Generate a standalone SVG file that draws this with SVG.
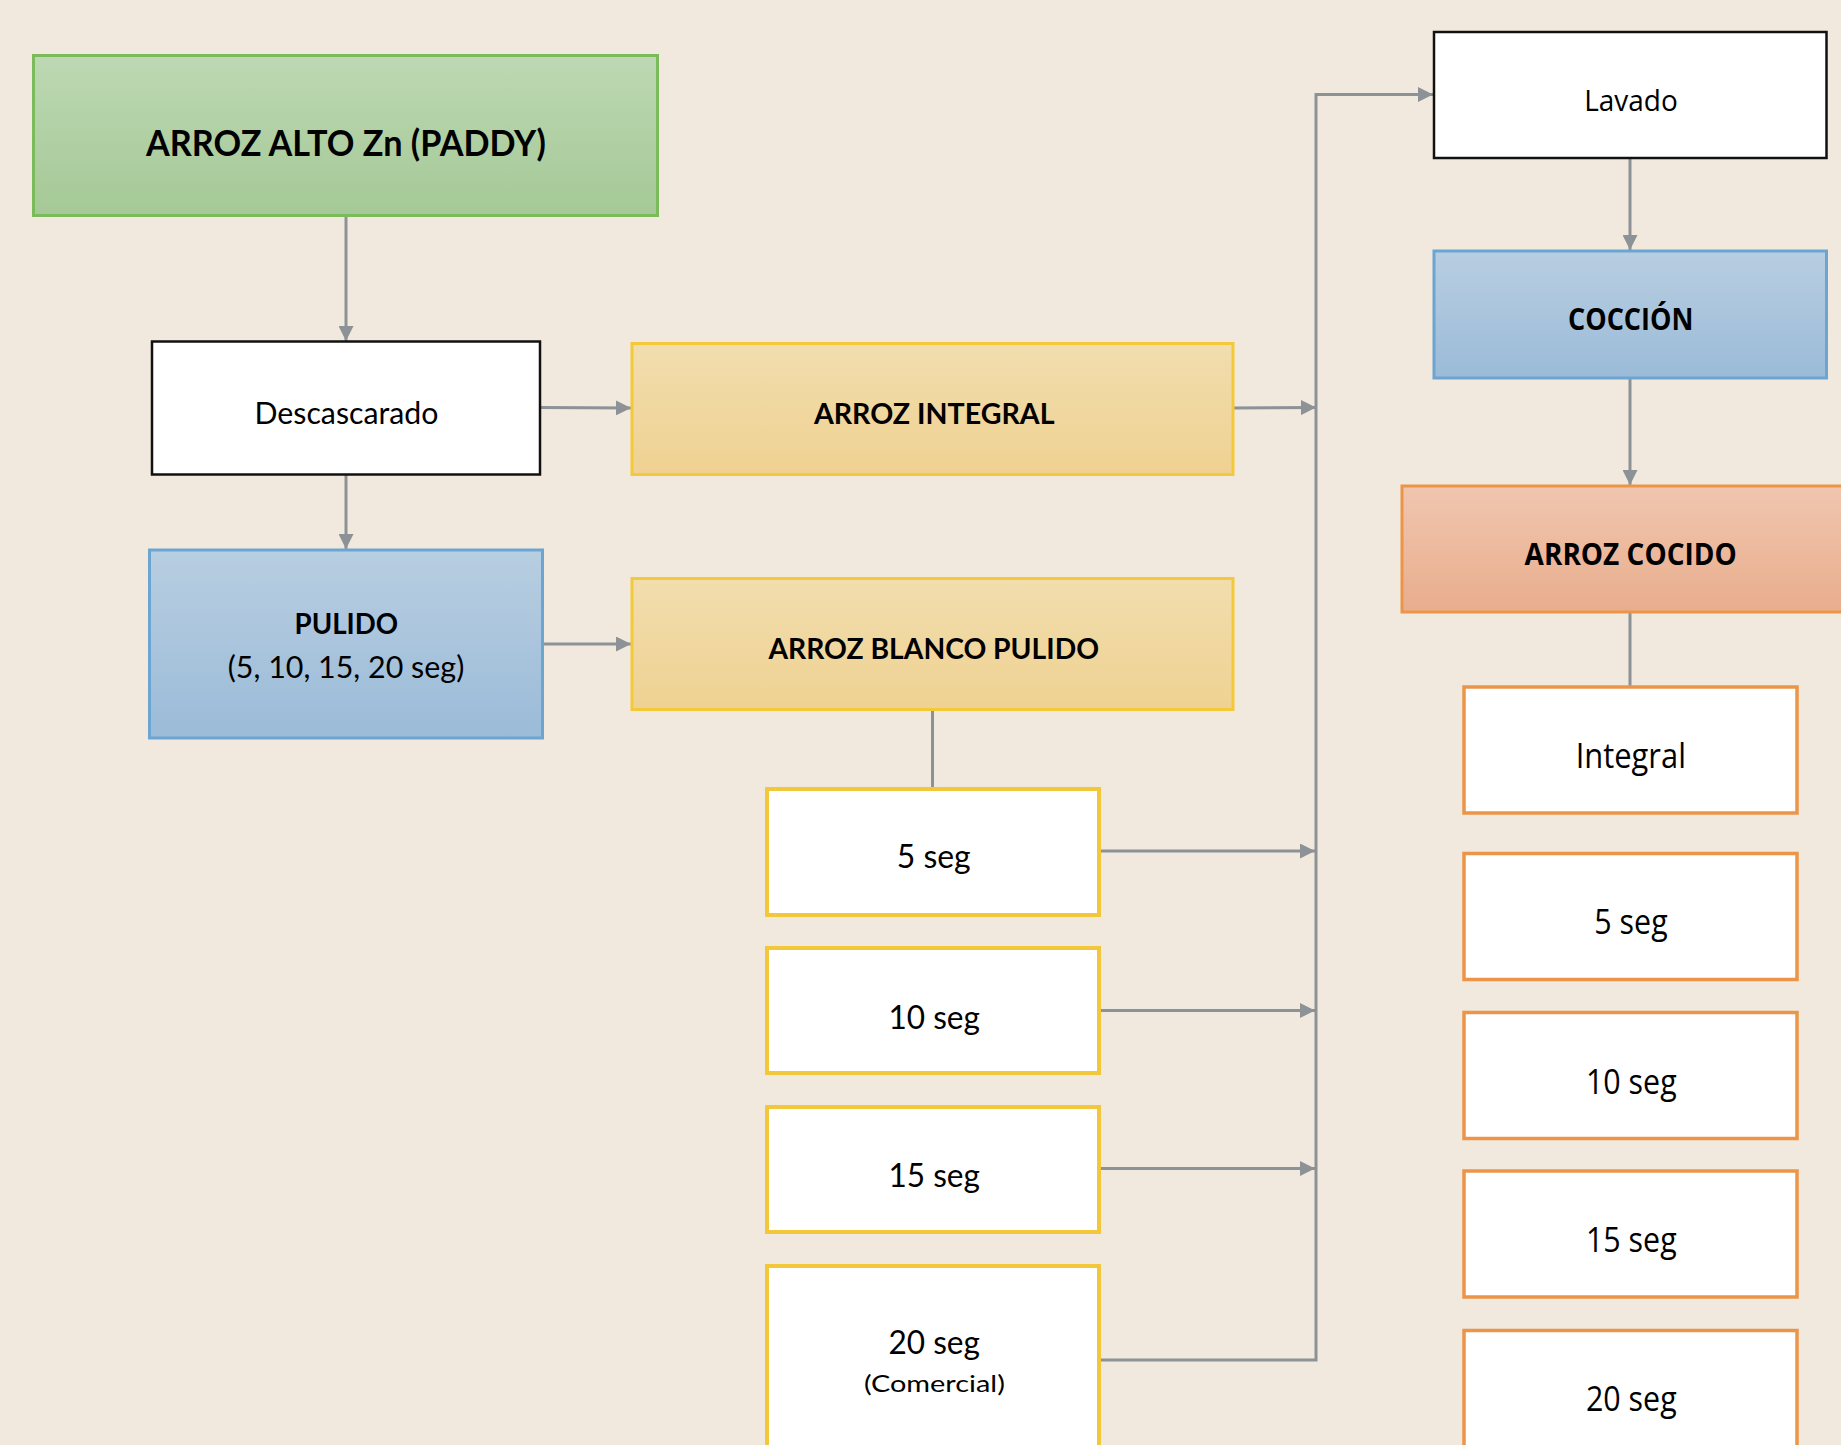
<svg xmlns="http://www.w3.org/2000/svg" width="1841" height="1445" viewBox="0 0 1841 1445">
<defs>
<linearGradient id="gGreen" x1="0" y1="0" x2="0" y2="1"><stop offset="0" stop-color="#BDD8B3"/><stop offset="1" stop-color="#A5C996"/></linearGradient>
<linearGradient id="gYellow" x1="0" y1="0" x2="0" y2="1"><stop offset="0" stop-color="#F2DDAE"/><stop offset="1" stop-color="#EFD292"/></linearGradient>
<linearGradient id="gBlue" x1="0" y1="0" x2="0" y2="1"><stop offset="0" stop-color="#B8CEE1"/><stop offset="1" stop-color="#9BBBD8"/></linearGradient>
<linearGradient id="gOrange" x1="0" y1="0" x2="0" y2="1"><stop offset="0" stop-color="#F0C6AF"/><stop offset="1" stop-color="#E9AD8D"/></linearGradient>
<marker id="arr" viewBox="0 0 10 10" refX="10" refY="5" markerWidth="15" markerHeight="15" markerUnits="userSpaceOnUse" orient="auto">
<path d="M0,0 L10,5 L0,10 Z" fill="#8C9295"/>
</marker>
<style>
.conn{fill:none;stroke:#8C9295;stroke-width:3}
.lt{font-family:Lato,"Liberation Sans",sans-serif;fill:#000;text-anchor:middle}
.os{font-family:"Open Sans","Liberation Sans",sans-serif;fill:#000;text-anchor:middle}
.b{font-weight:bold}
.white{fill:#FFFFFF}
.blk{stroke:#111;stroke-width:2.5}
.ysm{stroke:#F2C83A;stroke-width:4}
.osm{stroke:#EC9548;stroke-width:3.5}
</style>
</defs>
<rect x="0" y="0" width="1841" height="1445" fill="#F1E9DD"/>

<g id="connectors">
<path class="conn" d="M346,216 V341" marker-end="url(#arr)"/>
<path class="conn" d="M346,475 V549" marker-end="url(#arr)"/>
<path class="conn" d="M540,407.5 L631,408" marker-end="url(#arr)"/>
<path class="conn" d="M543,644 H631" marker-end="url(#arr)"/>
<path class="conn" d="M1233,408 L1316,407.5" marker-end="url(#arr)"/>
<path class="conn" d="M932.5,709 V787"/>
<path class="conn" d="M1100,851 H1315" marker-end="url(#arr)"/>
<path class="conn" d="M1100,1010.5 H1315" marker-end="url(#arr)"/>
<path class="conn" d="M1100,1168.5 H1315" marker-end="url(#arr)"/>
<path class="conn" d="M1100,1360 H1316 V94.5 H1433" marker-end="url(#arr)"/>
<path class="conn" d="M1630,158.5 V250" marker-end="url(#arr)"/>
<path class="conn" d="M1630,378.5 V485" marker-end="url(#arr)"/>
<path class="conn" d="M1630,612.5 V686"/>
</g>

<g id="n-paddy">
<rect x="33.5" y="55.5" width="624" height="160" fill="url(#gGreen)" stroke="#7CBB5C" stroke-width="3"/>
<text class="lt b" x="346" y="155.5" font-size="36" textLength="400" lengthAdjust="spacingAndGlyphs">ARROZ ALTO Zn (PADDY)</text>
</g>

<g id="n-descascarado">
<rect class="white blk" x="152" y="341.5" width="388" height="133"/>
<text class="lt" x="346.5" y="424" font-size="31" textLength="184" lengthAdjust="spacingAndGlyphs">Descascarado</text>
</g>

<g id="n-pulido">
<rect x="149.5" y="550" width="393" height="188" fill="url(#gBlue)" stroke="#6CA5D1" stroke-width="3"/>
<text class="lt b" x="346.4" y="634.4" font-size="29" textLength="103.6" lengthAdjust="spacingAndGlyphs">PULIDO</text>
<text class="lt" x="346" y="678" font-size="30" textLength="236.6" lengthAdjust="spacingAndGlyphs">(5, 10, 15, 20 seg)</text>
</g>

<g id="n-integral">
<rect x="632" y="343.5" width="601" height="131" fill="url(#gYellow)" stroke="#F3C93A" stroke-width="3"/>
<text class="lt b" x="934.2" y="424" font-size="29" textLength="240.6" lengthAdjust="spacingAndGlyphs">ARROZ INTEGRAL</text>
</g>

<g id="n-blanco">
<rect x="632" y="578.5" width="601" height="131" fill="url(#gYellow)" stroke="#F3C93A" stroke-width="3"/>
<text class="lt b" x="933.7" y="659" font-size="29" textLength="330.6" lengthAdjust="spacingAndGlyphs">ARROZ BLANCO PULIDO</text>
</g>

<g id="n-p5">
<rect class="white ysm" x="767" y="789" width="332" height="126"/>
<text class="lt" x="933.7" y="867.7" font-size="32" textLength="74" lengthAdjust="spacingAndGlyphs">5 seg</text>
</g>
<g id="n-p10">
<rect class="white ysm" x="767" y="948" width="332" height="125"/>
<text class="lt" x="934.2" y="1028.6" font-size="33" textLength="91.5" lengthAdjust="spacingAndGlyphs">10 seg</text>
</g>
<g id="n-p15">
<rect class="white ysm" x="767" y="1107" width="332" height="125"/>
<text class="lt" x="934.2" y="1186.8" font-size="33" textLength="91.5" lengthAdjust="spacingAndGlyphs">15 seg</text>
</g>
<g id="n-p20">
<rect class="white ysm" x="767" y="1266" width="332" height="200"/>
<text class="lt" x="934.2" y="1353.6" font-size="33" textLength="91.5" lengthAdjust="spacingAndGlyphs">20 seg</text>
<text class="lt" x="934.4" y="1392" font-size="23" textLength="141" lengthAdjust="spacingAndGlyphs">(Comercial)</text>
</g>

<g id="n-lavado">
<rect class="white blk" x="1434" y="32" width="392.5" height="126"/>
<text class="os" x="1631" y="110.7" font-size="30" textLength="93.5" lengthAdjust="spacingAndGlyphs">Lavado</text>
</g>

<g id="n-coccion">
<rect x="1434" y="251" width="392.5" height="127" fill="url(#gBlue)" stroke="#6CA5D1" stroke-width="3"/>
<text class="os b" x="1630.7" y="330.4" font-size="31" textLength="125.3" lengthAdjust="spacingAndGlyphs">COCCIÓN</text>
</g>

<g id="n-cocido">
<rect x="1402" y="486" width="460" height="126" fill="url(#gOrange)" stroke="#EC9548" stroke-width="3"/>
<text class="os b" x="1630.7" y="565.2" font-size="31" textLength="212.2" lengthAdjust="spacingAndGlyphs">ARROZ COCIDO</text>
</g>

<g id="n-c-integral">
<rect class="white osm" x="1464" y="687" width="333" height="126"/>
<text class="os" x="1630.8" y="768.2" font-size="35" textLength="110.3" lengthAdjust="spacingAndGlyphs">Integral</text>
</g>
<g id="n-c5">
<rect class="white osm" x="1464" y="853.5" width="333" height="126"/>
<text class="os" x="1631" y="934" font-size="34" textLength="73.3" lengthAdjust="spacingAndGlyphs">5 seg</text>
</g>
<g id="n-c10">
<rect class="white osm" x="1464" y="1012.5" width="333" height="126"/>
<text class="os" x="1631.3" y="1093.7" font-size="34" textLength="90.7" lengthAdjust="spacingAndGlyphs">10 seg</text>
</g>
<g id="n-c15">
<rect class="white osm" x="1464" y="1171" width="333" height="126"/>
<text class="os" x="1631.3" y="1252.4" font-size="34" textLength="90.7" lengthAdjust="spacingAndGlyphs">15 seg</text>
</g>
<g id="n-c20">
<rect class="white osm" x="1464" y="1330.5" width="333" height="140"/>
<text class="os" x="1631.3" y="1410.6" font-size="34" textLength="90.7" lengthAdjust="spacingAndGlyphs">20 seg</text>
</g>
</svg>
